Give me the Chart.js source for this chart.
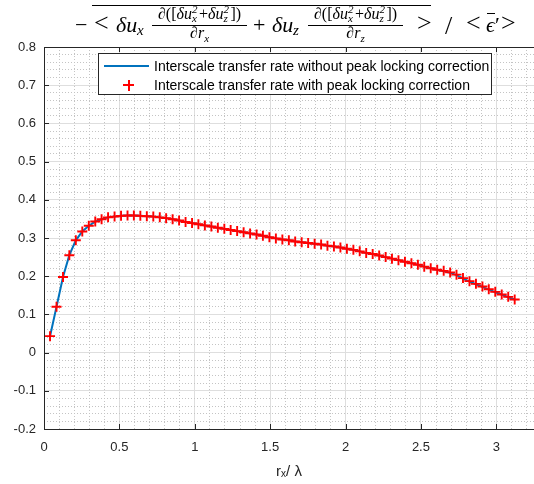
<!DOCTYPE html>
<html>
<head>
<meta charset="utf-8">
<script src="https://cdn.jsdelivr.net/npm/chart.js@4"></script>
<style>
html,body{margin:0;padding:0;background:#fff;overflow:hidden;}
#wrap{position:relative;width:534px;height:484px;}
#c{position:absolute;left:0;top:0;}
#ttl{position:absolute;left:0;top:0;width:534px;height:46px;font-family:'Liberation Serif','DejaVu Serif',serif;color:#000;}
#ttl span,#ttl div{position:absolute;line-height:1;white-space:nowrap;}
#ttl .m22{font-size:22px;}
#ttl .m26{font-size:26px;}
#ttl .it{font-style:italic;}
#ttl .s15{font-size:15px;font-style:italic;}
#ttl .num,#ttl .den{font-size:16px;text-align:center;}
#ttl .num span,#ttl .den span{position:relative;}
#ttl .ss{display:inline-block;position:relative;width:7px;height:0;}
#ttl .ss .p,#ttl .ss .b{position:absolute;left:0;font-size:11px;font-style:italic;}
#ttl .ss .p{top:-15px;}
#ttl .ss .b{top:-6px;}
#ttl .sbd{font-size:11px;font-style:italic;top:4px;}
#leg{position:absolute;left:98px;top:53px;width:392px;height:40px;border:1px solid #262626;background:#fff;
 font-family:'Liberation Sans',Arial,sans-serif;font-size:14px;color:#000;}
#leg .t{position:absolute;left:55px;white-space:nowrap;line-height:16px;}
</style>
</head>
<body>
<div id="wrap">
<canvas id="c" width="534" height="484"></canvas>
<div id="ttl">
 <div style="left:92px;top:5px;width:339px;height:1px;background:#000;"></div>
 <span class="m22" style="left:75px;top:13.6px;">&minus;</span>
 <span class="m26" style="left:94px;top:10.2px;">&lt;</span>
 <span class="m22 it" style="left:116px;top:13.6px;">δu</span>
 <span class="s15" style="left:137px;top:23.4px;">x</span>
 <div class="num" style="left:152px;width:95px;top:5.6px;">∂([<i>δu</i><span class="ss"><span class="p">2</span><span class="b">x</span></span>+<i>δu</i><span class="ss"><span class="p">2</span><span class="b">z</span></span>])</div>
 <div style="left:152px;top:25px;width:95px;height:1px;background:#000;"></div>
 <div class="den" style="left:152px;width:95px;top:25px;">∂<i>r</i><span class="sbd">x</span></div>
 <span class="m22" style="left:253px;top:13.6px;">+</span>
 <span class="m22 it" style="left:272px;top:13.6px;">δu</span>
 <span class="s15" style="left:293px;top:23.4px;">z</span>
 <div class="num" style="left:308px;width:95px;top:5.6px;">∂([<i>δu</i><span class="ss"><span class="p">2</span><span class="b">x</span></span>+<i>δu</i><span class="ss"><span class="p">2</span><span class="b">z</span></span>])</div>
 <div style="left:308px;top:25px;width:95px;height:1px;background:#000;"></div>
 <div class="den" style="left:308px;width:95px;top:25px;">∂<i>r</i><span class="sbd">z</span></div>
 <span class="m26" style="left:417px;top:10.2px;">&gt;</span>
 <span class="m26" style="left:445px;top:13.2px;">/</span>
 <span class="m26" style="left:466px;top:10.2px;">&lt;</span>
 <div style="left:487px;top:13px;width:8px;height:1px;background:#000;"></div>
 <span class="m22 it" style="left:486px;top:13.6px;">ϵ</span>
 <span class="m22" style="left:495px;top:13.6px;">′</span>
 <span class="m26" style="left:501px;top:10.2px;">&gt;</span>
</div>
<div id="leg">
 <div style="position:absolute;left:5px;top:11px;width:45px;height:2px;background:#0072BD;"></div>
 <div class="t" style="top:4px;">Interscale transfer rate without peak locking correction</div>
 <div style="position:absolute;left:24px;top:30px;width:11px;height:2px;background:#ff0000;"></div>
 <div style="position:absolute;left:28.5px;top:25.5px;width:2px;height:11px;background:#ff0000;"></div>
 <div class="t" style="top:23px;">Interscale transfer rate with peak locking correction</div>
</div>
</div>
<script>
const xTickLabels = ['0','0.5','1','1.5','2','2.5','3'];
const yTickLabels = ['-0.2','-0.1','0','0.1','0.2','0.3','0.4','0.5','0.6','0.7','0.8'];

const rx = [0.040,0.083,0.126,0.168,0.211,0.254,0.297,0.340,0.382,0.425,0.468,0.511,0.554,0.596,0.639,0.682,0.725,0.768,0.810,0.853,
0.896,0.939,0.982,1.024,1.067,1.110,1.153,1.196,1.238,1.281,1.324,1.367,1.410,1.452,1.495,1.538,1.581,1.624,1.666,1.709,
1.752,1.795,1.838,1.880,1.923,1.966,2.009,2.052,2.094,2.137,2.180,2.223,2.266,2.308,2.351,2.394,2.437,2.480,2.522,2.565,
2.608,2.651,2.694,2.736,2.779,2.822,2.865,2.908,2.950,2.993,3.036,3.079,3.122];

const rateWithCorrection = [0.043,0.120,0.198,0.255,0.294,0.317,0.332,0.343,0.349,0.354,0.356,0.358,0.359,0.359,0.358,0.357,0.356,0.354,0.352,0.349,
0.346,0.342,0.339,0.336,0.333,0.330,0.327,0.324,0.321,0.318,0.315,0.312,0.309,0.306,0.302,0.299,0.296,0.294,0.291,0.289,
0.287,0.285,0.283,0.280,0.278,0.275,0.272,0.269,0.265,0.261,0.258,0.254,0.250,0.246,0.242,0.238,0.234,0.230,0.225,0.221,
0.217,0.214,0.210,0.204,0.195,0.187,0.180,0.173,0.166,0.159,0.152,0.146,0.139];

const rateWithoutCorrection = [0.043,0.120,0.198,0.255,0.294,0.317,0.332,0.343,0.349,0.354,0.356,0.358,0.359,0.359,0.358,0.357,0.356,0.354,0.352,0.349,
0.346,0.342,0.339,0.336,0.333,0.330,0.327,0.324,0.321,0.318,0.315,0.312,0.309,0.306,0.302,0.299,0.296,0.294,0.291,0.289,
0.287,0.285,0.283,0.280,0.278,0.275,0.272,0.269,0.265,0.261,0.258,0.254,0.250,0.246,0.242,0.238,0.234,0.230,0.225,0.221,
0.217,0.213,0.209,0.203,0.194,0.186,0.179,0.172,0.165,0.158,0.152,0.145,0.139];

const AX = '#262626';
const FONT = "'Liberation Sans', Arial, sans-serif";
const isMajor = (v, step) => Math.abs(v/step - Math.round(v/step)) < 1e-6;
const noPad = s => { s.paddingLeft = 0; s.paddingRight = 0; s.paddingTop = 0; s.paddingBottom = 0; };

const frame = {
  id: 'frame',
  beforeDatasetsDraw(chart) {
    const {ctx, chartArea: a, scales: {x, y}} = chart;
    ctx.save();
    ctx.strokeStyle = AX; ctx.lineWidth = 1;
    ctx.beginPath();
    ctx.moveTo(a.left, Math.round(a.top) + 0.5); ctx.lineTo(a.right, Math.round(a.top) + 0.5);
    x.ticks.forEach(t => {
      const px = Math.round(x.getPixelForValue(t.value)) + 0.5;
      ctx.moveTo(px, a.bottom); ctx.lineTo(px, a.bottom - 5);
      ctx.moveTo(px, a.top); ctx.lineTo(px, a.top + 5);
    });
    y.ticks.forEach(t => {
      const py = Math.round(y.getPixelForValue(t.value)) + 0.5;
      ctx.moveTo(a.left, py); ctx.lineTo(a.left + 5, py);
    });
    ctx.stroke();
    ctx.restore();
  }
};

new Chart(document.getElementById('c'), {
  type: 'scatter',
  data: {
    datasets: [
      {
        label: 'Interscale transfer rate with peak locking correction',
        data: rx.map((v, i) => ({x: v, y: rateWithCorrection[i]})),
        showLine: false,
        pointStyle: 'cross',
        pointRadius: 5,
        pointBorderWidth: 1.9,
        borderColor: '#ff0000',
        backgroundColor: '#ff0000',
        order: 1
      },
      {
        label: 'Interscale transfer rate without peak locking correction',
        data: rx.map((v, i) => ({x: v, y: rateWithoutCorrection[i]})),
        showLine: true,
        pointRadius: 0,
        borderColor: '#0072BD',
        borderWidth: 2,
        tension: 0,
        order: 2
      }
    ]
  },
  options: {
    responsive: false,
    animation: false,
    layout: {autoPadding: false, padding: {top: 47, left: 0, right: 0, bottom: 0}},
    plugins: {legend: {display: false}, tooltip: {enabled: false}, title: {display: false}},
    scales: {
      x: {
        type: 'linear', position: 'bottom', min: 0, max: 3.25,
        afterFit: s => { s.height = 55; noPad(s); },
        ticks: {stepSize: 0.5, includeBounds: false, padding: 11, color: AX, font: {family: FONT, size: 13},
          callback: (v) => xTickLabels[Math.round(v / 0.5)] },
        grid: {color: '#dedede', lineWidth: 1, drawTicks: false},
        border: {display: true, color: AX, width: 1},
        title: {display: true, text: 'r\u2093/ \u03bb', color: AX, font: {family: FONT, size: 15}, padding: {top: 0, bottom: 3}}
      },
      x2: {
        type: 'linear', position: 'top', min: 0, max: 3.25,
        afterFit: s => { s.height = 0; noPad(s); },
        ticks: {display: false, stepSize: 0.1, includeBounds: false},
        grid: {drawTicks: false, lineWidth: 1,
          color: c => isMajor(c.tick.value, 0.5) ? 'rgba(0,0,0,0)' : '#c4c4c4'},
        border: {display: false, dash: [1, 2]}
      },
      y: {
        type: 'linear', position: 'left', min: -0.2, max: 0.8,
        afterFit: s => { s.width = 44; noPad(s); },
        ticks: {stepSize: 0.1, padding: 8, color: AX, font: {family: FONT, size: 13},
          callback: (v) => yTickLabels[Math.round((v + 0.2) / 0.1)] },
        grid: {color: '#dedede', lineWidth: 1, drawTicks: false},
        border: {display: true, color: AX, width: 1}
      },
      y2: {
        type: 'linear', position: 'left', min: -0.2, max: 0.8,
        afterFit: s => { s.width = 0; noPad(s); },
        ticks: {display: false, stepSize: 0.02},
        grid: {drawTicks: false, lineWidth: 1,
          color: c => isMajor(c.tick.value, 0.1) ? 'rgba(0,0,0,0)' : '#c4c4c4'},
        border: {display: false, dash: [1, 2]}
      }
    }
  },
  plugins: [frame]
});
</script>
</body>
</html>
